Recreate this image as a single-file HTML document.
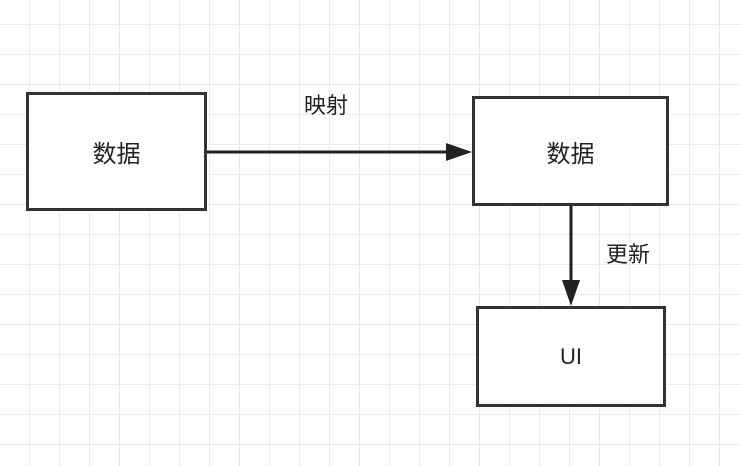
<!DOCTYPE html><html><head><meta charset="utf-8"><style>
body{margin:0;width:740px;height:466px;overflow:hidden;background:#fff;font-family:"Liberation Sans","Noto Sans CJK SC",sans-serif}
.g{position:absolute;left:0;top:0;width:740px;height:466px;
background-image:linear-gradient(#e6e6e6 1px,transparent 1px),linear-gradient(90deg,#e6e6e6 1px,transparent 1px),linear-gradient(#ececec 1px,transparent 1px),linear-gradient(90deg,#ececec 1px,transparent 1px);
background-size:120px 120px,120px 120px,30px 30px,30px 30px;background-position:-1px -36px,-1px -36px,-1px 24px,-1px 24px}
.b{position:absolute;border:3px solid #333;background:#fff;box-sizing:border-box;display:flex;align-items:center;justify-content:center;font-size:24px;color:#222}
.t{position:absolute;font-size:22px;color:#222}
</style></head><body><div class="g"></div>
<div class="b" style="left:26px;top:92px;width:181px;height:119px">数据</div>
<div class="b" style="left:472px;top:96px;width:197px;height:110px">数据</div>
<div class="b" style="left:476px;top:306px;width:190px;height:101px;font-size:22px">UI</div>
<svg style="position:absolute;left:0;top:0" width="740" height="466">
<line x1="207" y1="152" x2="448" y2="152" stroke="#222" stroke-width="3"/>
<polygon points="472,152 446,143 446,161" fill="#222"/>
<line x1="571" y1="206" x2="571" y2="282" stroke="#222" stroke-width="3"/>
<polygon points="571,306 562,280 580,280" fill="#222"/>
</svg>
<div class="t" style="left:304px;top:88px">映射</div>
<div class="t" style="left:606px;top:237px">更新</div>
</body></html>
